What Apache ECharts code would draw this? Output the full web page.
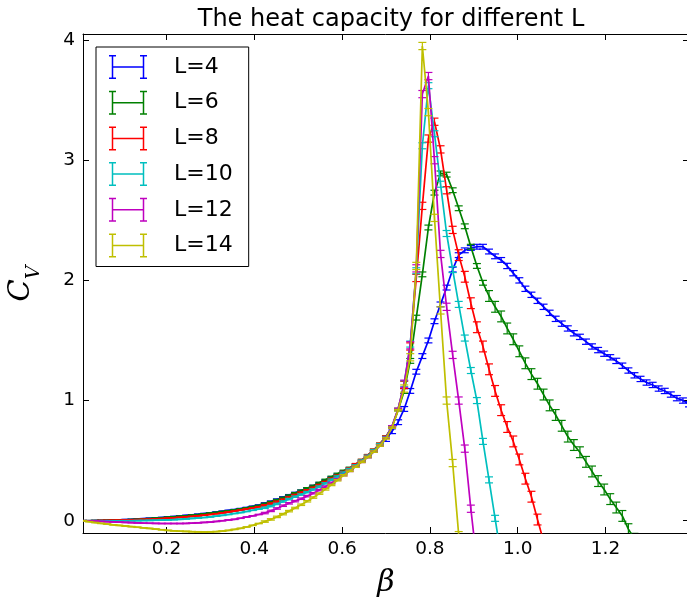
<!DOCTYPE html>
<html><head><meta charset="utf-8">
<script src="https://cdn.jsdelivr.net/npm/echarts@6/dist/echarts.min.js"></script>
<style>html,body{margin:0;padding:0;background:#fff}#chart{width:687px;height:606px}</style>
</head><body><div id="chart"></div>
<script>
const betaValues = [0.0100,0.0238,0.0376,0.0514,0.0652,0.0790,0.0928,0.1066,0.1204,0.1342,
0.1480,0.1618,0.1756,0.1894,0.2032,0.2170,0.2308,0.2446,0.2584,0.2722,
0.2860,0.2998,0.3136,0.3274,0.3412,0.3550,0.3688,0.3826,0.3964,0.4102,
0.4240,0.4378,0.4516,0.4654,0.4792,0.4930,0.5068,0.5206,0.5344,0.5482,
0.5620,0.5758,0.5896,0.6034,0.6172,0.6310,0.6448,0.6586,0.6724,0.6862,
0.7000,0.7138,0.7276,0.7414,0.7552,0.7690,0.7828,0.7966,0.8104,0.8242,
0.8380,0.8518,0.8656,0.8794,0.8932,0.9070,0.9208,0.9346,0.9484,0.9622,
0.9760,0.9898,1.0036,1.0174,1.0312,1.0450,1.0588,1.0726,1.0864,1.1002,
1.1140,1.1278,1.1416,1.1554,1.1692,1.1830,1.1968,1.2106,1.2244,1.2382,
1.2520,1.2658,1.2796,1.2934,1.3072,1.3210,1.3348,1.3486,1.3624,1.3762,
1.3900];

const cvL4 = [0.000,0.000,0.001,0.002,0.003,0.005,0.007,0.009,0.011,0.014,
0.017,0.020,0.023,0.027,0.031,0.035,0.039,0.044,0.049,0.054,
0.060,0.066,0.072,0.079,0.086,0.093,0.101,0.110,0.120,0.130,
0.145,0.160,0.177,0.195,0.213,0.232,0.251,0.270,0.290,0.313,
0.337,0.362,0.385,0.410,0.435,0.460,0.495,0.530,0.575,0.625,
0.680,0.745,0.820,0.930,1.080,1.240,1.370,1.500,1.660,1.800,
1.940,2.090,2.210,2.250,2.270,2.280,2.280,2.240,2.200,2.170,
2.120,2.060,2.000,1.930,1.880,1.830,1.780,1.730,1.680,1.640,
1.600,1.560,1.530,1.490,1.450,1.420,1.390,1.360,1.330,1.290,
1.250,1.210,1.180,1.150,1.130,1.100,1.080,1.050,1.020,1.000,
0.970];

const cvL6 = [0.000,0.000,0.001,0.002,0.003,0.004,0.006,0.008,0.010,0.012,
0.015,0.018,0.021,0.025,0.029,0.033,0.037,0.041,0.046,0.051,
0.057,0.063,0.069,0.076,0.083,0.090,0.098,0.107,0.117,0.127,
0.140,0.155,0.172,0.190,0.209,0.229,0.250,0.270,0.290,0.315,
0.340,0.365,0.390,0.415,0.440,0.470,0.505,0.545,0.590,0.640,
0.700,0.780,0.920,1.080,1.330,1.690,2.050,2.440,2.730,2.890,
2.880,2.750,2.600,2.450,2.280,2.120,1.980,1.870,1.780,1.700,
1.600,1.510,1.410,1.310,1.220,1.140,1.050,0.960,0.880,0.790,
0.700,0.630,0.570,0.490,0.410,0.330,0.260,0.180,0.110,0.040,
-0.070,-0.150];

const cvL8 = [0.000,0.000,0.000,0.001,0.002,0.003,0.004,0.006,0.007,0.009,
0.011,0.013,0.016,0.018,0.021,0.024,0.028,0.032,0.036,0.041,
0.046,0.052,0.058,0.065,0.072,0.080,0.088,0.097,0.106,0.116,
0.128,0.142,0.158,0.175,0.194,0.214,0.234,0.253,0.274,0.297,
0.322,0.350,0.375,0.405,0.435,0.470,0.505,0.545,0.590,0.640,
0.700,0.785,0.930,1.130,1.450,2.020,2.620,3.180,3.320,3.090,
2.750,2.420,2.210,2.030,1.810,1.610,1.450,1.260,1.080,0.920,
0.780,0.660,0.510,0.350,0.200,0.010,-0.170];

const cvL10 = [0.000,0.000,-0.001,-0.001,-0.001,-0.001,-0.001,0.000,0.000,0.001,
0.002,0.003,0.004,0.005,0.007,0.009,0.012,0.015,0.019,0.023,
0.027,0.032,0.038,0.045,0.052,0.060,0.068,0.077,0.087,0.097,
0.108,0.122,0.140,0.160,0.180,0.200,0.218,0.238,0.260,0.284,
0.311,0.341,0.368,0.400,0.430,0.460,0.500,0.540,0.585,0.635,
0.695,0.785,0.930,1.140,1.470,2.080,3.120,3.620,3.220,2.800,
2.390,2.090,1.800,1.520,1.250,1.000,0.660,0.340,0.020,-0.300];

const cvL12 = [0.000,-0.002,-0.004,-0.006,-0.008,-0.010,-0.012,-0.014,-0.016,-0.018,
-0.020,-0.021,-0.022,-0.023,-0.023,-0.023,-0.023,-0.022,-0.020,-0.017,
-0.014,-0.011,-0.006,0.000,0.006,0.012,0.021,0.031,0.041,0.052,
0.064,0.082,0.102,0.125,0.145,0.163,0.183,0.205,0.229,0.255,
0.284,0.315,0.345,0.380,0.415,0.450,0.490,0.530,0.575,0.625,
0.690,0.785,0.930,1.140,1.460,2.100,3.550,3.700,3.000,2.220,
1.780,1.380,1.000,0.600,0.100,-0.350];

const cvL14 = [0.000,-0.008,-0.015,-0.022,-0.028,-0.034,-0.039,-0.044,-0.049,-0.054,
-0.059,-0.064,-0.069,-0.075,-0.080,-0.084,-0.087,-0.089,-0.091,-0.092,
-0.093,-0.092,-0.090,-0.086,-0.080,-0.072,-0.063,-0.052,-0.038,-0.023,
-0.007,0.011,0.032,0.055,0.080,0.106,0.133,0.162,0.193,0.226,
0.261,0.298,0.337,0.378,0.415,0.450,0.490,0.530,0.575,0.625,
0.685,0.775,0.920,1.100,1.360,2.120,3.950,3.400,2.520,1.750,
1.000,0.480,-0.120];

const errL4 = [0.002,0.002,0.002,0.002,0.002,0.002,0.002,0.002,0.002,0.002,
0.002,0.002,0.002,0.002,0.002,0.002,0.002,0.002,0.002,0.002,
0.002,0.002,0.002,0.002,0.002,0.002,0.002,0.002,0.002,0.002,
0.005,0.005,0.005,0.005,0.005,0.005,0.005,0.005,0.005,0.005,
0.005,0.005,0.005,0.005,0.005,0.005,0.005,0.005,0.005,0.005,
0.020,0.020,0.020,0.020,0.020,0.020,0.020,0.020,0.020,0.020,
0.020,0.020,0.020,0.020,0.020,0.020,0.020,0.020,0.020,0.020,
0.022,0.022,0.022,0.022,0.022,0.022,0.022,0.022,0.022,0.022,
0.022,0.022,0.022,0.022,0.022,0.022,0.022,0.022,0.022,0.022,
0.022,0.022,0.022,0.022,0.022,0.022,0.022,0.022,0.022,0.022,
0.022];

const errL6 = [0.002,0.002,0.002,0.002,0.002,0.002,0.002,0.002,0.002,0.002,
0.002,0.002,0.002,0.002,0.002,0.002,0.002,0.002,0.002,0.002,
0.002,0.002,0.002,0.002,0.002,0.002,0.002,0.002,0.002,0.002,
0.006,0.006,0.006,0.006,0.006,0.006,0.006,0.006,0.006,0.006,
0.006,0.006,0.006,0.006,0.006,0.006,0.006,0.006,0.006,0.006,
0.006,0.006,0.006,0.020,0.020,0.020,0.020,0.020,0.020,0.020,
0.020,0.020,0.020,0.020,0.020,0.020,0.020,0.045,0.045,0.045,
0.045,0.045,0.045,0.045,0.045,0.045,0.045,0.045,0.045,0.045,
0.045,0.045,0.045,0.045,0.045,0.045,0.045,0.045,0.045,0.045,
0.045,0.045];

const errL8 = [0.002,0.002,0.002,0.002,0.002,0.002,0.002,0.002,0.002,0.002,
0.002,0.002,0.002,0.002,0.002,0.002,0.002,0.002,0.002,0.002,
0.002,0.002,0.002,0.002,0.002,0.002,0.002,0.002,0.002,0.002,
0.006,0.006,0.006,0.006,0.006,0.006,0.006,0.006,0.006,0.006,
0.006,0.006,0.006,0.006,0.006,0.006,0.006,0.006,0.006,0.006,
0.006,0.006,0.006,0.030,0.030,0.030,0.030,0.030,0.030,0.030,
0.030,0.030,0.045,0.045,0.045,0.045,0.045,0.045,0.045,0.045,
0.045,0.045,0.045,0.045,0.045,0.045,0.045];

const errL10 = [0.002,0.002,0.002,0.002,0.002,0.002,0.002,0.002,0.002,0.002,
0.002,0.002,0.002,0.002,0.002,0.002,0.002,0.002,0.002,0.002,
0.002,0.002,0.002,0.002,0.002,0.002,0.002,0.002,0.002,0.002,
0.006,0.006,0.006,0.006,0.006,0.006,0.006,0.006,0.006,0.006,
0.006,0.006,0.006,0.006,0.006,0.006,0.006,0.006,0.006,0.006,
0.006,0.006,0.006,0.025,0.025,0.025,0.025,0.025,0.025,0.025,
0.025,0.025,0.025,0.025,0.025,0.025,0.025,0.025,0.025,0.025];

const errL12 = [0.002,0.002,0.002,0.002,0.002,0.002,0.002,0.002,0.002,0.002,
0.002,0.002,0.002,0.002,0.002,0.002,0.002,0.002,0.002,0.002,
0.002,0.002,0.002,0.002,0.002,0.002,0.002,0.002,0.002,0.002,
0.006,0.006,0.006,0.006,0.006,0.006,0.006,0.006,0.006,0.006,
0.006,0.006,0.006,0.006,0.006,0.006,0.006,0.006,0.006,0.006,
0.006,0.006,0.006,0.030,0.030,0.030,0.030,0.030,0.030,0.030,
0.030,0.030,0.030,0.030,0.030,0.030];

const errL14 = [0.002,0.002,0.002,0.002,0.002,0.002,0.002,0.002,0.002,0.002,
0.002,0.002,0.002,0.002,0.002,0.002,0.002,0.002,0.002,0.002,
0.002,0.002,0.002,0.002,0.002,0.002,0.002,0.002,0.002,0.002,
0.006,0.006,0.006,0.006,0.006,0.006,0.006,0.006,0.006,0.006,
0.006,0.006,0.006,0.006,0.006,0.006,0.006,0.006,0.006,0.006,
0.006,0.006,0.006,0.030,0.030,0.030,0.030,0.030,0.030,0.030,
0.030,0.030,0.030];

const seriesNames = ['L=4', 'L=6', 'L=8', 'L=10', 'L=12', 'L=14'];
const seriesColors = ['#0000ff', '#008000', '#ff0000', '#00bfbf', '#bf00bf', '#bfbf00'];
const xTicks = [0.2, 0.4, 0.6, 0.8, 1.0, 1.2];
const yTicks = [0, 1, 2, 3, 4];
const titleText = 'The heat capacity for different L';

const cvSets = [cvL4, cvL6, cvL8, cvL10, cvL12, cvL14];
const errSets = [errL4, errL6, errL8, errL10, errL12, errL14];

function makeRows(cv, err) {
  return cv.map(function (c, i) { return [betaValues[i], c, err[i]]; });
}

const CAP = 4;
function renderErr(params, api) {
  const x = api.value(0), y = api.value(1), e = api.value(2);
  const top = api.coord([x, y + e]);
  const bot = api.coord([x, y - e]);
  const st = { stroke: api.visual('color'), lineWidth: 1.2 };
  return {
    type: 'group',
    children: [
      { type: 'line', shape: { x1: top[0], y1: top[1], x2: bot[0], y2: bot[1] }, style: st },
      { type: 'line', shape: { x1: top[0] - CAP, y1: top[1], x2: top[0] + CAP, y2: top[1] }, style: st },
      { type: 'line', shape: { x1: bot[0] - CAP, y1: bot[1], x2: bot[0] + CAP, y2: bot[1] }, style: st }
    ]
  };
}

const series = [];
seriesNames.forEach(function (name, i) {
  const rows = makeRows(cvSets[i], errSets[i]);
  series.push({
    name: name, type: 'line', data: rows, symbol: 'none', clip: true,
    lineStyle: { color: seriesColors[i], width: 1.7 },
    itemStyle: { color: seriesColors[i], borderWidth: 0 },
    z: 2 + i * 0.01
  });
  series.push({
    name: name, type: 'custom', data: rows, renderItem: renderErr, clip: true,
    encode: { x: 0, y: 1 },
    itemStyle: { color: seriesColors[i] },
    z: 2 + i * 0.01
  });
});

const axisCommon = {
  axisLine: { show: true, onZero: false, lineStyle: { color: '#000', width: 1 } },
  splitLine: { show: false },
  axisTick: { show: true, inside: true, length: 6, lineStyle: { color: '#000', width: 1 } }
};
const labelFont = { fontFamily: 'DejaVu Sans', fontSize: 18.5, color: '#000' };

const option = {
  animation: false,
  backgroundColor: '#fff',
  title: {
    text: titleText, left: 386, top: 3, textAlign: 'center',
    textStyle: { fontFamily: 'DejaVu Sans', fontSize: 24, fontWeight: 'normal', color: '#000' }
  },
  grid: { left: 83, top: 34, width: 606, height: 499, containLabel: false, outerBoundsMode: 'none' },
  legend: {
    data: seriesNames, orient: 'vertical', left: 96, top: 47,
    padding: [8, 16, 9, 13], itemGap: 11.7, itemWidth: 38, itemHeight: 24,
    icon: 'path://M0,0H7V1.5H4.25V22.5H7V24H0V22.5H2.75V1.5H0Z M31,0H38V1.5H35.25V22.5H38V24H31V22.5H33.75V1.5H31Z M4.25,11.25H33.75V12.75H4.25Z',
    borderColor: '#000', borderWidth: 1, borderRadius: 0, backgroundColor: '#fff',
    itemStyle: { borderWidth: 0 },
    textStyle: { fontFamily: 'DejaVu Sans', fontSize: 22, color: '#000', padding: [0, 0, 0, 22] },
    selectedMode: false
  },
  xAxis: [
    Object.assign({}, axisCommon, {
      type: 'value', min: 0.01, max: 1.39, position: 'bottom',
      axisTick: Object.assign({}, axisCommon.axisTick, { customValues: xTicks }),
      axisLabel: Object.assign({ customValues: xTicks, margin: 7, formatter: function (v) { return v.toFixed(1); } }, labelFont),
      name: 'β', nameLocation: 'middle', nameGap: 35,
      nameTextStyle: { fontFamily: 'DejaVu Serif', fontStyle: 'italic', fontSize: 30, color: '#000' }
    }),
    Object.assign({}, axisCommon, {
      type: 'value', min: 0.01, max: 1.39, position: 'top',
      axisTick: Object.assign({}, axisCommon.axisTick, { customValues: xTicks }),
      axisLabel: { show: false }
    })
  ],
  yAxis: [
    Object.assign({}, axisCommon, {
      type: 'value', min: -0.102, max: 4.05, position: 'left',
      axisTick: Object.assign({}, axisCommon.axisTick, { customValues: yTicks }),
      axisLabel: Object.assign({ customValues: yTicks, margin: 8, formatter: function (v) { return String(Math.round(v)); } }, labelFont),
      name: '{c|C}{v|V}', nameLocation: 'middle', nameRotate: 90, nameGap: 39,
      nameTextStyle: {
        rich: {
          c: { fontFamily: 'DejaVu Serif', fontStyle: 'italic', fontSize: 29, color: '#000', padding: [0, 0, 8, 0] },
          v: { fontFamily: 'DejaVu Serif', fontStyle: 'italic', fontSize: 19, color: '#000', verticalAlign: 'bottom' }
        }
      }
    }),
    Object.assign({}, axisCommon, {
      type: 'value', min: -0.102, max: 4.05, position: 'right',
      axisTick: Object.assign({}, axisCommon.axisTick, { customValues: yTicks }),
      axisLabel: { show: false }
    })
  ],
  series: series
};

const chart = echarts.init(document.getElementById('chart'), null, { renderer: 'canvas' });
chart.setOption(option);
</script>
</body></html>
